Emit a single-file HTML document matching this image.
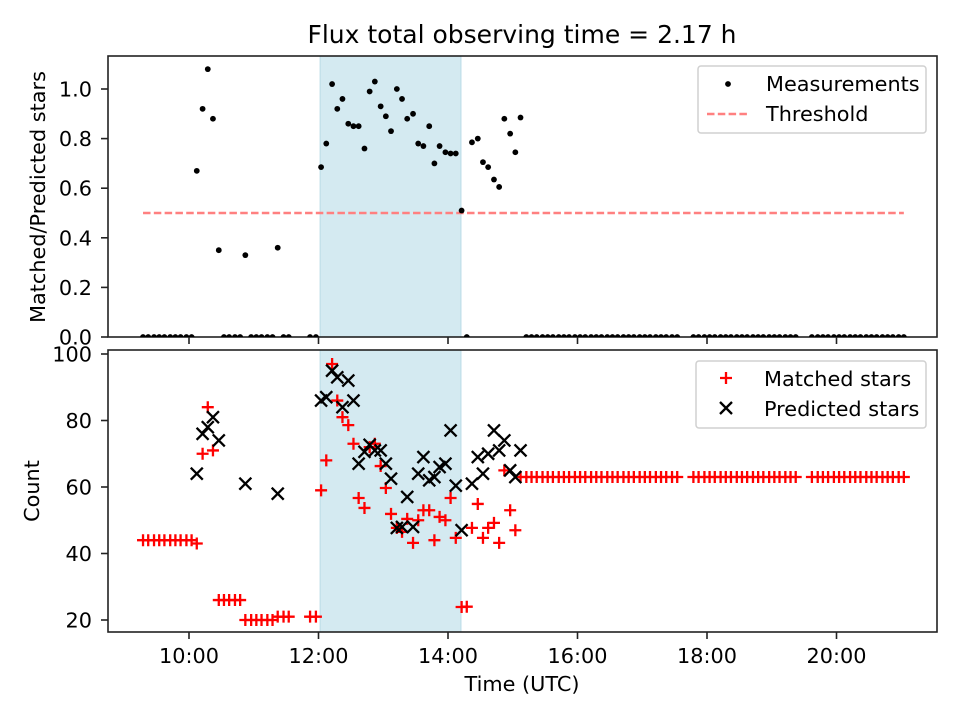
<!DOCTYPE html>
<html><head><meta charset="utf-8"><style>
body{margin:0;background:#fff}
svg{display:block;font-family:"DejaVu Sans","Liberation Sans",sans-serif}
</style></head><body>
<svg id="fig" width="960" height="720" viewBox="0 0 960 720" xmlns="http://www.w3.org/2000/svg">
<defs>
<clipPath id="c1"><rect x="108" y="56" width="829" height="281"/></clipPath>
<clipPath id="c2"><rect x="108" y="350" width="829" height="282"/></clipPath>
</defs>
<rect width="960" height="720" fill="#fff"/>
<text x="522" y="43" font-size="25" text-anchor="middle">Flux total observing time = 2.17 h</text>
<g id="topPanel"></g>
<g id="botPanel"></g>
</svg>
<script>
const times=[9.29,9.37,9.46,9.54,9.62,9.71,9.79,9.87,9.96,10.04,
10.12,10.21,10.29,10.37,10.46,10.54,10.62,10.71,10.79,
10.87,10.96,11.04,11.12,11.21,11.29,11.37,11.46,11.54,11.87,11.96,
12.04,12.12,12.21,12.29,12.37,12.46,12.54,12.62,12.71,12.79,12.87,12.96,13.04,13.12,13.21,13.29,13.37,13.46,13.54,13.62,13.71,13.79,13.87,13.96,14.04,14.12,14.21,
14.29,14.37,14.46,14.54,14.62,14.71,14.79,14.87,14.96,15.04,15.12,
15.21,15.29,15.37,15.46,15.54,15.62,15.71,15.79,15.87,15.96,16.04,16.12,16.21,16.29,16.37,16.46,16.54,16.62,16.71,16.79,16.87,16.96,17.04,17.12,17.21,17.29,17.37,17.46,17.54,
17.79,17.87,17.96,18.04,18.12,18.21,18.29,18.37,18.46,18.54,18.62,18.71,18.79,18.87,18.96,19.04,19.12,19.21,19.29,19.37,
19.62,19.71,19.79,19.87,19.96,20.04,20.12,20.21,20.29,20.37,20.46,20.54,20.62,20.71,20.79,20.87,20.96,21.04];
const ratios=[0,0,0,0,0,0,0,0,0,0,
0.67,0.92,1.08,0.88,0.35,0,0,0,0,
0.33,0,0,0,0,0,0.36,0,0,0,0,
0.685,0.78,1.02,0.92,0.96,0.86,0.85,0.85,0.76,0.99,1.03,0.93,0.89,0.83,1.0,0.96,0.88,0.90,0.78,0.77,0.85,0.70,0.77,0.745,0.74,0.74,0.51,
0,0.785,0.80,0.705,0.685,0.635,0.605,0.88,0.82,0.745,0.885,
0,0,0,0,0,0,0,0,0,0,0,0,0,0,0,0,0,0,0,0,0,0,0,0,0,0,0,0,0,
0,0,0,0,0,0,0,0,0,0,0,0,0,0,0,0,0,0,0,0,
0,0,0,0,0,0,0,0,0,0,0,0,0,0,0,0,0,0];
const matched=[44,44,44,44,44,44,44,44,44,44,
43,70,84,71,26,26,26,26,26,
20,20,20,20,20,20,21,21,21,21,21,
59,68,97,86,81,78.6,73,56.7,53.7,72,73,66.3,59.7,51.9,47.7,46.5,50.4,43.2,50,53,53,44,51,50,56.7,44.7,23.9,
24,47.7,54.9,44.7,47.7,49.2,43.2,65,53,47,63,
63,63,63,63,63,63,63,63,63,63,63,63,63,63,63,63,63,63,63,63,63,63,63,63,63,63,63,63,63,
63,63,63,63,63,63,63,63,63,63,63,63,63,63,63,63,63,63,63,63,
63,63,63,63,63,63,63,63,63,63,63,63,63,63,63,63,63,63];
const predicted=[null,null,null,null,null,null,null,null,null,null,
64,76,78,81,74,null,null,null,null,
61,null,null,null,null,null,58,null,null,null,null,
86,87,95,93,84,92,86,67,70.6,72.7,71,71,67,62.5,47.7,48,57,48,64,69,62,63,66,67,77,60.4,47,
null,61,69,64,70,77,71,74,65,63,71];
const threshold=0.5, thrStart=9.29, thrEnd=21.04;
const spanStart=12.025, spanEnd=14.2;
const xTickVals=[10,12,14,16,18,20];
const xTickLabels=["10:00","12:00","14:00","16:00","18:00","20:00"];
const yTopTicks=[0,0.2,0.4,0.6,0.8,1.0];
const yBotTicks=[20,40,60,80,100];

const NS="http://www.w3.org/2000/svg";
const X=h=>189+(h-10)*64.75;
const Y1=v=>337-v*248;
const Y2=v=>620-(v-20)*3.325;
function mk(p,tag,at){const e=document.createElementNS(NS,tag);for(const k in at)e.setAttribute(k,at[k]);p.appendChild(e);return e;}
const topG=document.getElementById('topPanel'), botG=document.getElementById('botPanel');
const M=6, FS=20.8, SW=2.3;

function panel(g,y0,y1,Y,ticks,fmt,labels,name){
  const sp=mk(g,'rect',{x:X(spanStart),y:y0,width:X(spanEnd)-X(spanStart),height:y1-y0,fill:'#d4eaf1',stroke:'#b9dbe6','stroke-width':1});
  
  
  const fr=mk(g,'rect',{x:108,y:y0,width:829,height:y1-y0,fill:'none',stroke:'#222','stroke-width':1.6});
  
  
  xTickVals.forEach((v,i)=>{
    mk(g,'line',{x1:X(v),x2:X(v),y1:y1,y2:y1+7,stroke:'#222','stroke-width':1.6});
    if(labels){const t=mk(g,'text',{x:X(v),y:y1+31,'font-size':FS,'text-anchor':'middle'});t.textContent=xTickLabels[i];
      
      }
  });
  ticks.forEach(v=>{
    mk(g,'line',{x1:101,x2:108,y1:Y(v),y2:Y(v),stroke:'#222','stroke-width':1.6});
    const t=mk(g,'text',{x:92,y:Y(v)+7.5,'font-size':FS,'text-anchor':'end'});t.textContent=fmt(v);
    
    
  });
}
panel(topG,56,337,Y1,yTopTicks,v=>v.toFixed(1),false,'top');
panel(botG,350,632,Y2,yBotTicks,v=>String(v),true,'bottom');

const th=mk(topG,'line',{x1:X(thrStart),x2:X(thrEnd),y1:Y1(threshold),y2:Y1(threshold),stroke:'#ff8080','stroke-width':2.5,'stroke-dasharray':'7.5,3.3'});



const g1=mk(topG,'g',{'clip-path':'url(#c1)'});
times.forEach((t,i)=>{
  const c=mk(g1,'circle',{cx:X(t),cy:Y1(ratios[i]),r:2.9,fill:'#000'});
  
  
});
const g2=mk(botG,'g',{'clip-path':'url(#c2)'});
times.forEach((t,i)=>{
  const x=X(t),y=Y2(matched[i]);
  const p=mk(g2,'path',{d:`M${x-M},${y}H${x+M}M${x},${y-M}V${y+M}`,stroke:'#ff0000','stroke-width':SW,fill:'none'});
  
  
});
times.forEach((t,i)=>{
  const v=predicted[i]; if(v==null) return;
  const x=X(t),y=Y2(v);
  const p=mk(g2,'path',{d:`M${x-M},${y-M}L${x+M},${y+M}M${x-M},${y+M}L${x+M},${y-M}`,stroke:'#000','stroke-width':SW,fill:'none'});
  
  
});

function lab(txt,x,y,rot,name){const t=mk(document.getElementById('fig'),'text',{x:x,y:y,'font-size':FS,'text-anchor':'middle'});
  if(rot)t.setAttribute('transform',`rotate(-90 ${x} ${y})`);
  t.textContent=txt;
  
  }
lab('Matched/Predicted stars',45,197,true,'top-y-axis-title');
lab('Count',39,491,true,'bottom-y-axis-title');
lab('Time (UTC)',522,691,false,'x-axis-title');

function legend(g,x,y,w,h,entries,name){
  const lg=mk(g,'g',{});
  
  
  mk(lg,'rect',{x:x,y:y,width:w,height:h,rx:3,fill:'#fff','fill-opacity':0.8,stroke:'#d0d0d0','stroke-width':1.5});
  entries.forEach((e,i)=>{
    const cy=y+17+i*30;
    e.draw(lg,x+30,cy);
    const t=mk(lg,'text',{x:x+68,y:cy+8,'font-size':FS});t.textContent=e.label;
    
    
  });
}
legend(topG,698,66,228,67,[
 {label:'Measurements',draw:(g,x,y)=>mk(g,'circle',{cx:x,cy:y+1,r:2.9,fill:'#000'})},
 {label:'Threshold',draw:(g,x,y)=>mk(g,'line',{x1:x-21,x2:x+20,y1:y+1,y2:y+1,stroke:'#ff8080','stroke-width':2.5,'stroke-dasharray':'7.5,3.3'})}
],'top-legend');
legend(botG,696,361,230,67,[
 {label:'Matched stars',draw:(g,x,y)=>mk(g,'path',{d:`M${x-M},${y}H${x+M}M${x},${y-M}V${y+M}`,stroke:'#f00','stroke-width':SW})},
 {label:'Predicted stars',draw:(g,x,y)=>mk(g,'path',{d:`M${x-M},${y-M}L${x+M},${y+M}M${x-M},${y+M}L${x+M},${y-M}`,stroke:'#000','stroke-width':SW})}
],'bottom-legend');
</script>
</body></html>
